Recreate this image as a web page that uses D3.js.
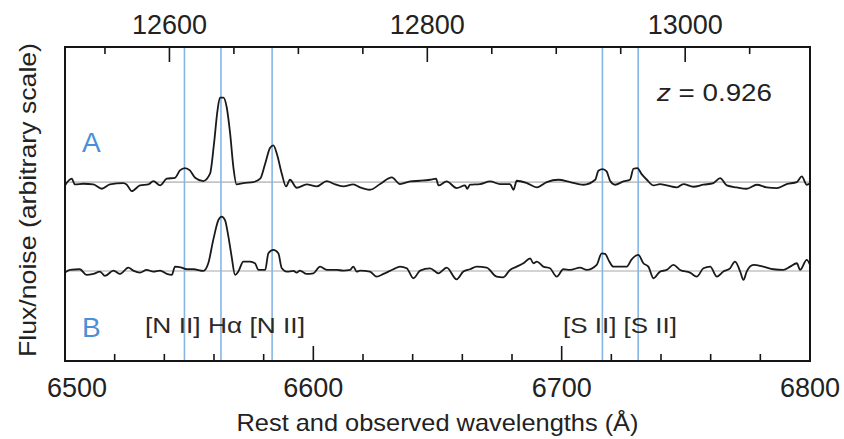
<!DOCTYPE html>
<html>
<head>
<meta charset="utf-8">
<script src="https://cdn.jsdelivr.net/npm/d3@7"></script>
<style>
  html, body { margin: 0; padding: 0; background: #fff; }
  svg { display: block; font-family: "Liberation Sans", Arial, Helvetica, sans-serif; }
</style>
</head>
<body>
<svg id="chart" width="844" height="439"></svg>
<script>
// Spectrum A: rest wavelength (Å) and flux/noise relative to its baseline
const waveA = [6500.0, 6502.7, 6504.0, 6507.4, 6511.4, 6514.8, 6518.1, 6523.5, 6524.8, 6526.9,
  6530.2, 6533.6, 6535.6, 6538.3, 6541.0, 6544.3, 6546.3, 6548.3, 6550.3, 6552.4,
  6555.7, 6558.4, 6560.0, 6561.4, 6562.4, 6563.8, 6565.1, 6566.5, 6567.8, 6569.1,
  6571.8, 6575.9, 6578.6, 6580.6, 6582.6, 6583.9, 6585.3, 6587.3, 6589.0, 6590.6,
  6593.3, 6597.3, 6601.4, 6605.4, 6608.1, 6612.1, 6616.1, 6618.8, 6622.8, 6626.9,
  6631.6, 6634.9, 6639.0, 6643.0, 6647.0, 6649.4, 6650.4, 6653.7, 6657.7, 6661.1,
  6662.0, 6663.1, 6667.1, 6671.2, 6675.2, 6679.2, 6680.6, 6681.9, 6686.0, 6690.0,
  6694.0, 6698.7, 6703.4, 6708.8, 6713.5, 6714.8, 6716.5, 6718.1, 6719.5, 6721.5,
  6724.9, 6727.5, 6728.9, 6730.5, 6732.2, 6734.3, 6737.0, 6739.6, 6742.3, 6746.3,
  6749.0, 6753.0, 6757.1, 6761.1, 6763.8, 6766.5, 6770.5, 6774.5, 6778.6, 6782.6,
  6786.6, 6790.6, 6794.7, 6796.7, 6798.7, 6800.0];
const fluxA = [-0.56, 0.56, -0.39, -0.28, -0.39, -1.11, -0.39, -0.17, -0.39, -1.5,
  -0.56, -0.39, 0.17, -0.56, 0.56, 0.72, 1.94, 2.33, 1.94, 0.72,
  0.17, 1.39, 6.39, 11.9, 14.06, 14.06, 12.5, 8.06, 2.5, -0.39,
  -0.17, 0.0, 0.56, 3.06, 5.72, 6.1, 4.72, 1.39, -0.72, 0.39,
  -0.94, -0.39, -0.72, 0.17, -0.28, -0.72, -0.39, -0.89, -1.28, -0.33,
  0.78, -0.33, 0.11, 0.22, 0.39, 0.56, -0.56, 0.11, -1.0, -0.56,
  -1.11, -0.44, -0.33, 0.11, -0.33, -0.33, -1.28, 0.22, -0.17, -0.89,
  0.0, 0.39, 0.0, -0.44, 0.39, 1.89, 2.17, 1.78, 0.22, -0.44,
  0.11, 0.39, 2.22, 2.33, 1.33, 0.39, -0.56, -0.33, -0.56, -0.89,
  -0.33, -0.78, -0.44, -0.17, 0.67, -0.56, -0.89, -1.11, -0.44, -0.89,
  -1.0, -0.33, 0.0, 0.94, -0.44, -0.2];

// Spectrum B
const waveB = [6500.0, 6502.0, 6506.0, 6508.7, 6511.4, 6514.1, 6516.1, 6519.5, 6522.2, 6525.5,
  6527.5, 6530.2, 6532.9, 6535.6, 6538.3, 6541.0, 6543.0, 6544.3, 6547.0, 6549.0,
  6551.7, 6555.7, 6557.7, 6559.7, 6561.8, 6563.1, 6564.4, 6565.8, 6567.1, 6568.5,
  6569.8, 6571.8, 6574.5, 6576.5, 6577.9, 6580.6, 6581.9, 6583.9, 6585.9, 6587.3,
  6589.3, 6592.0, 6593.3, 6594.6, 6597.3, 6600.0, 6602.7, 6605.4, 6609.4, 6612.1,
  6614.8, 6616.1, 6617.5, 6618.8, 6622.8, 6625.5, 6628.2, 6632.2, 6634.9, 6637.6,
  6640.3, 6643.0, 6647.0, 6650.4, 6653.7, 6657.7, 6660.4, 6663.1, 6665.8, 6669.8,
  6673.8, 6676.5, 6679.2, 6681.9, 6684.6, 6687.3, 6688.6, 6690.0, 6692.6, 6695.3,
  6698.0, 6700.7, 6703.4, 6707.4, 6710.1, 6714.1, 6716.1, 6717.5, 6719.2, 6720.8,
  6723.5, 6726.2, 6728.2, 6730.9, 6732.9, 6734.9, 6737.0, 6739.6, 6742.3, 6745.0,
  6747.7, 6751.7, 6754.4, 6757.1, 6759.8, 6762.5, 6765.1, 6767.8, 6769.8, 6771.9,
  6773.2, 6774.5, 6777.2, 6781.2, 6785.3, 6789.3, 6792.0, 6794.7, 6796.0, 6798.7, 6800.0];
const fluxB = [-0.28, 0.17, 0.28, -0.67, -0.5, -0.11, -0.83, 0.06, -0.5, 0.56,
  0.06, -0.28, 0.17, -0.11, 0.06, -0.5, -0.67, 0.72, 0.56, 0.28,
  0.28, 0.0, 1.28, 5.17, 8.5, 9.06, 8.5, 5.72, 2.39, -0.67,
  -0.11, 1.56, 1.56, 1.28, 0.17, 0.17, 2.94, 3.5, 2.94, 0.44,
  -0.11, 0.0, -0.28, 0.06, -0.5, -0.39, 0.72, 0.17, 0.17, 0.06,
  0.17, 0.72, -0.11, 0.06, -0.11, -0.94, -0.5, 0.28, 0.72, 0.44,
  -1.22, 0.06, 0.44, -0.39, 0.56, -1.39, -0.11, 0.28, 0.72, 0.56,
  -0.94, -1.06, 0.17, 0.72, 1.28, 2.11, 1.28, 1.56, 0.72, 0.44,
  -0.94, 0.28, 0.17, 0.56, 0.17, 1.0, 2.94, 2.83, 1.56, 0.72,
  0.72, 0.72, 1.94, 2.67, 1.28, 0.72, -1.22, -0.11, 0.17, 1.0,
  0.17, -0.28, -0.94, 0.44, 0.72, -0.94, -0.11, 0.44, 1.56, -0.11,
  -1.5, -0.11, 1.0, 0.72, 0.28, 0.17, 0.72, 1.28, 0.17, 1.83, 1.0];

// Vertical offsets of the two spectra on the arbitrary flux/noise scale
const offsetA = 29.8;
const offsetB = 15;
const yDomain = [0, 52.3];

// Emission lines (rest wavelength, Å)
const lineWaves = [6548.1, 6562.8, 6583.4, 6716.4, 6730.8];

// Axes
const redshift = 0.926;
const restRange = [6500, 6800];
const restMajor = [6500, 6600, 6700, 6800];
const restMinor = d3.range(6500, 6801, 20);
const obsMajor = [12600, 12800, 13000];
const obsMinor = d3.range(12550, 13051, 50);

const svg = d3.select("#chart");
const L = 65, R = 810, T = 47, B = 361;

const x = d3.scaleLinear().domain(restRange).range([L, R]);
const xObs = d3.scaleLinear()
  .domain(restRange.map(d => d * (1 + redshift)))
  .range([L, R]);
const y = d3.scaleLinear().domain(yDomain).range([B, T]);

const blue = "#86b6e6";
const ink = "#151515";

// Spectrum baselines
svg.append("g").selectAll("line").data([offsetA, offsetB]).join("line")
  .attr("x1", L).attr("x2", R)
  .attr("y1", d => y(d)).attr("y2", d => y(d))
  .attr("stroke", "#c4c4c4").attr("stroke-width", 1.6);

// Emission-line markers
svg.append("g").selectAll("line").data(lineWaves).join("line")
  .attr("x1", d => x(d)).attr("x2", d => x(d))
  .attr("y1", T).attr("y2", B)
  .attr("stroke", blue).attr("stroke-width", 1.6);

// Spectra
const line = d3.line().curve(d3.curveMonotoneX);
function drawSpectrum(waves, flux, offset) {
  const pts = waves.map((w, i) => [x(w), y(flux[i] + offset)]);
  svg.append("path")
    .attr("d", line(pts))
    .attr("fill", "none")
    .attr("stroke", "#1a1a1a")
    .attr("stroke-width", 1.8)
    .attr("stroke-linejoin", "round");
}
drawSpectrum(waveA, fluxA, offsetA);
drawSpectrum(waveB, fluxB, offsetB);

// Inward tick marks along a horizontal edge
function ticks(scale, values, majors, edgeY, dir) {
  svg.append("g").selectAll("line").data(values).join("line")
    .attr("x1", d => scale(d)).attr("x2", d => scale(d))
    .attr("y1", edgeY)
    .attr("y2", d => edgeY + dir * (majors.includes(d) ? 15 : 7))
    .attr("stroke", ink).attr("stroke-width", 1.6);
}
ticks(x, restMinor, restMajor, B, -1);
ticks(xObs, obsMinor, obsMajor, T, 1);

// Frame
svg.append("rect")
  .attr("x", L).attr("y", T).attr("width", R - L).attr("height", B - T)
  .attr("fill", "none").attr("stroke", ink).attr("stroke-width", 2);

// Tick labels
const fmt = d3.format("d");
svg.append("g").selectAll("text").data(restMajor).join("text")
  .attr("x", d => x(d) + (d === 6500 ? 12 : 0)).attr("y", B + 36)
  .attr("text-anchor", "middle")
  .attr("font-size", 27).attr("fill", "#222")
  .text(fmt);
svg.append("g").selectAll("text").data(obsMajor).join("text")
  .attr("x", d => xObs(d)).attr("y", T - 13)
  .attr("text-anchor", "middle")
  .attr("font-size", 27).attr("fill", "#222")
  .text(fmt);

// Axis titles
svg.append("text")
  .attr("x", (L + R) / 2).attr("y", 431)
  .attr("text-anchor", "middle")
  .attr("font-size", 24).attr("fill", "#222")
  .attr("textLength", 402).attr("lengthAdjust", "spacingAndGlyphs")
  .text("Rest and observed wavelengths (Å)");

svg.append("text")
  .attr("transform", `translate(36,${(T + B) / 2 - 4}) rotate(-90)`)
  .attr("text-anchor", "middle")
  .attr("font-size", 24).attr("fill", "#222")
  .attr("textLength", 314).attr("lengthAdjust", "spacingAndGlyphs")
  .text("Flux/noise (arbitrary scale)");

// Spectrum labels
const labelBlue = "#4a8fd8";
svg.append("text").attr("x", 82).attr("y", 152)
  .attr("font-size", 28).attr("fill", labelBlue).text("A");
svg.append("text").attr("x", 82).attr("y", 337)
  .attr("font-size", 28).attr("fill", labelBlue).text("B");

// Line identifications
svg.append("text").attr("x", 145).attr("y", 333)
  .attr("font-size", 22).attr("fill", "#2a2a2a")
  .attr("textLength", 160).attr("lengthAdjust", "spacingAndGlyphs")
  .text("[N II] Hα [N II]");
svg.append("text").attr("x", 563).attr("y", 333)
  .attr("font-size", 22).attr("fill", "#2a2a2a")
  .attr("textLength", 114).attr("lengthAdjust", "spacingAndGlyphs")
  .text("[S II] [S II]");

// Redshift
const zText = svg.append("text").attr("x", 657).attr("y", 101)
  .attr("font-size", 24).attr("fill", "#222")
  .attr("textLength", 115).attr("lengthAdjust", "spacingAndGlyphs");
zText.append("tspan").attr("font-style", "italic").text("z");
zText.append("tspan").text(" = " + redshift);
</script>
</body>
</html>
